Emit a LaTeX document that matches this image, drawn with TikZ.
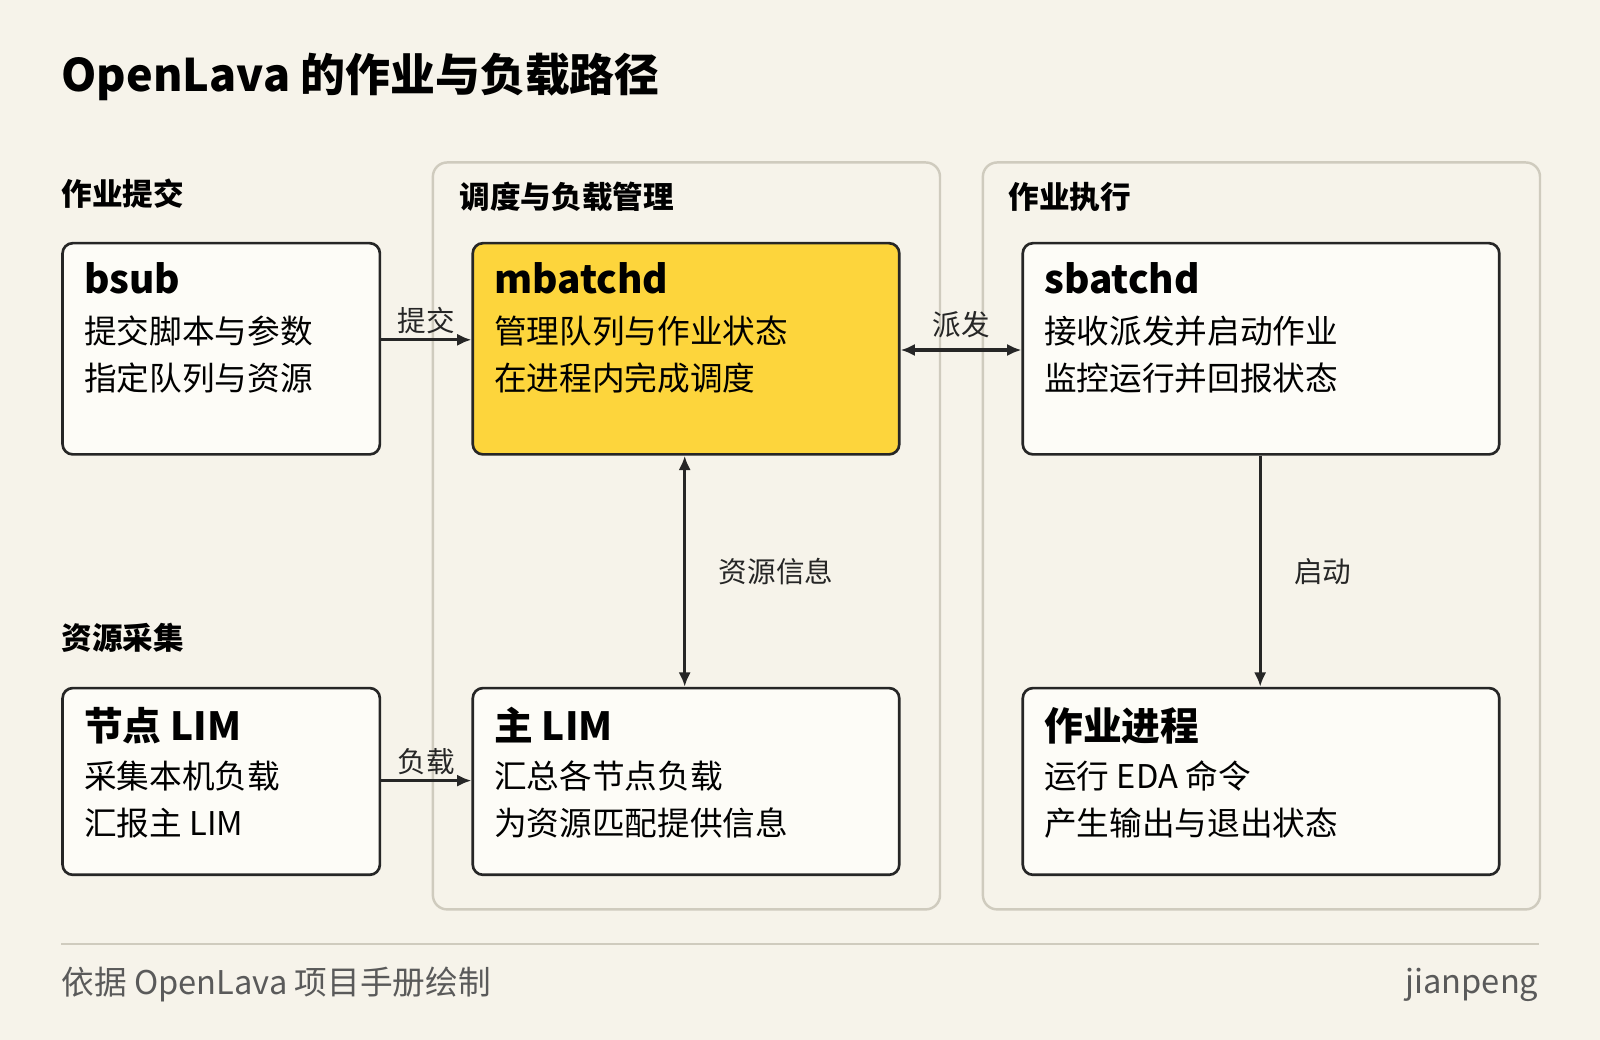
\documentclass[tikz,border=0pt]{standalone}
\usepackage{fontspec}
\setmainfont{Noto Sans CJK SC}
\usetikzlibrary{positioning}
\usetikzlibrary{arrows.meta}
\definecolor{bgc}{HTML}{F6F3EA}
\definecolor{boxc}{HTML}{FDFCF7}
\definecolor{hotc}{HTML}{FDD53C}
\definecolor{grpc}{HTML}{CFCBBE}
\definecolor{footc}{HTML}{5A5A5A}
\tikzset{proc/.style={rectangle,rounded corners=5pt,draw=black!85,line width=1.3pt,
fill=boxc,anchor=north west,inner sep=0pt}}
\tikzset{group/.style={rectangle,rounded corners=7pt,draw=grpc,line width=1.2pt,
anchor=north west,inner sep=0pt}}
\tikzset{proctitle/.style={anchor=north west,inner sep=0pt,font=\fontsize{19}{22}\selectfont\bfseries}}
\tikzset{proctext/.style={anchor=north west,inner sep=0pt,align=left,
font=\fontsize{16}{23}\selectfont}}
\tikzset{section/.style={anchor=west,inner sep=0pt,font=\fontsize{15}{18}\selectfont\bfseries}}
\tikzset{flow/.style={line width=1.5pt,black!85,-{Latex[length=7pt,width=6pt]}}}
\tikzset{flowlabel/.style={inner sep=2pt,font=\fontsize{14}{16}\selectfont}}

\begin{document}
\begin{tikzpicture}[x=0.5pt,y=-0.5pt]
    \fill[bgc] (0,0) rectangle (1568,1019);
    \useasboundingbox (0,0) rectangle (1568,1019);

    \node[anchor=west,inner sep=0pt,font=\fontsize{22}{26}\selectfont\bfseries] (title) at (60,75) {OpenLava 的作业与负载路径};

    \node[group,minimum width=248.5pt,minimum height=366pt] (gsched) at (423,158) {};
    \node[group,minimum width=273pt,minimum height=366pt] (gexec) at (962,158) {};

    \node[section] (ssubmit) at (60,190) {作业提交};
    \node[section] (scollect) at (60,625) {资源采集};
    \node[section] (ssched) at (450,193) {调度与负载管理};
    \node[section] (sexec) at (988,193) {作业执行};

    \node[proc,minimum width=155.5pt,minimum height=103.5pt] (bsub) at (60,237) {};
    \node[proc,fill=hotc,minimum width=209pt,minimum height=103.5pt] (mbatchd) at (462,237) {};
    \node[proc,minimum width=233.5pt,minimum height=103.5pt] (sbatchd) at (1001,237) {};
    \node[proc,minimum width=155.5pt,minimum height=91.5pt] (nodelim) at (60,673) {};
    \node[proc,minimum width=209pt,minimum height=91.5pt] (masterlim) at (462,673) {};
    \node[proc,minimum width=233.5pt,minimum height=91.5pt] (jobproc) at (1001,673) {};

    \node[proctitle] at ([xshift=11pt,yshift=-10pt]bsub.north west) {bsub};
    \node[proctext] at ([xshift=11pt,yshift=-36pt]bsub.north west) {提交脚本与参数\\指定队列与资源};
    \node[proctitle] at ([xshift=11pt,yshift=-10pt]mbatchd.north west) {mbatchd};
    \node[proctext] at ([xshift=11pt,yshift=-36pt]mbatchd.north west) {管理队列与作业状态\\在进程内完成调度};
    \node[proctitle] at ([xshift=11pt,yshift=-10pt]sbatchd.north west) {sbatchd};
    \node[proctext] at ([xshift=11pt,yshift=-36pt]sbatchd.north west) {接收派发并启动作业\\监控运行并回报状态};
    \node[proctitle] at ([xshift=11pt,yshift=-10pt]nodelim.north west) {节点 LIM};
    \node[proctext] at ([xshift=11pt,yshift=-36pt]nodelim.north west) {采集本机负载\\汇报主 LIM};
    \node[proctitle] at ([xshift=11pt,yshift=-10pt]masterlim.north west) {主 LIM};
    \node[proctext] at ([xshift=11pt,yshift=-36pt]masterlim.north west) {汇总各节点负载\\为资源匹配提供信息};
    \node[proctitle] at ([xshift=11pt,yshift=-10pt]jobproc.north west) {作业进程};
    \node[proctext] at ([xshift=11pt,yshift=-36pt]jobproc.north west) {运行 EDA 命令\\产生输出与退出状态};

    % connectors
    \coordinate (bsubout) at (bsub.east |- 0,333);
    \coordinate (mbin) at (mbatchd.west |- 0,333);
    \draw[flow] (bsubout) -- node[flowlabel,above] {提交} (mbin);
    \coordinate (nlout) at (nodelim.east |- 0,765);
    \coordinate (mlin) at (masterlim.west |- 0,765);
    \draw[flow] (nlout) -- node[flowlabel,above] {负载} (mlin);
    \coordinate (mbout) at (mbatchd.east |- 0,343);
    \coordinate (sbin) at (sbatchd.west |- 0,343);
    \draw[flow,{Latex[length=7pt,width=6pt]}-{Latex[length=7pt,width=6pt]}] (mbout) -- node[flowlabel,above=3pt] {派发} (sbin);
    \coordinate (mbdown) at (671,0 |- mbatchd.south);
    \coordinate (mlup) at (671,0 |- masterlim.north);
    \draw[flow,{Latex[length=7pt,width=6pt]}-{Latex[length=7pt,width=6pt]}] (mbdown) -- node[flowlabel,right=14pt] {资源信息} (mlup);
    \coordinate (sbdown) at (1235,0 |- sbatchd.south);
    \coordinate (jpup) at (1235,0 |- jobproc.north);
    \draw[flow] (sbdown) -- node[flowlabel,right=14pt] {启动} (jpup);

    % footer
    \draw[grpc,line width=1pt] (60,925) -- (1508,925);
    \node[anchor=west,inner sep=0pt,text=footc,font=\fontsize{16}{18}\selectfont] (source) at (60,965) {依据 OpenLava 项目手册绘制};
    \node[anchor=east,inner sep=0pt,text=footc,font=\fontsize{16}{18}\selectfont] (author) at (1508,965) {jianpeng};
\end{tikzpicture}
\end{document}
